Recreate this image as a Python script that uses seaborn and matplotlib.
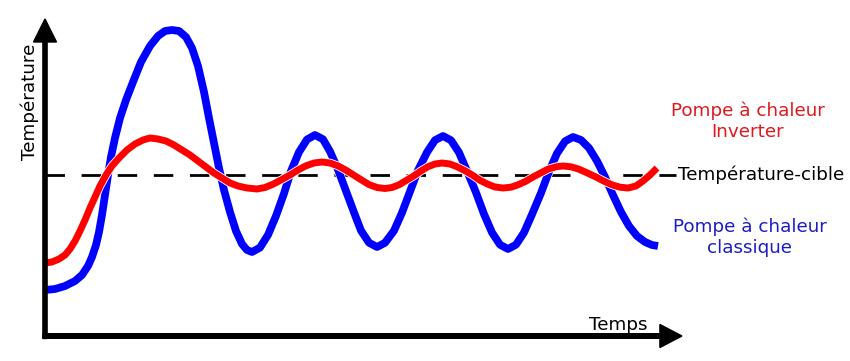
import numpy as np
import pandas as pd
import matplotlib
matplotlib.use("Agg")
import matplotlib.pyplot as plt
import matplotlib.patheffects as pe
import seaborn as sns

# ---- data (time, temperature in arbitrary units) ----
time_classic = [0, 10, 20, 30, 37, 43, 47, 51, 54, 57, 60, 63, 66, 70, 75, 81,
                88, 96, 105, 113, 120, 127, 134, 141,
                147, 153, 159, 164, 169, 174, 179, 185, 191, 197, 202, 207,
                215, 223, 231, 239, 246, 254, 262, 270,
                278, 285, 293, 301, 309, 316, 324, 332,
                340, 349, 357, 365, 373, 382, 390, 398,
                406, 414, 422, 431, 439, 447, 455, 463,
                471, 479, 487, 496, 504, 512, 520, 528,
                536, 544, 552, 560, 568, 576, 584, 592, 600, 607, 613]
temp_classic = [46, 47, 50, 55, 61, 70, 79, 91, 104, 121, 141, 161, 179, 198, 218, 236,
                254, 274, 290, 300, 305, 306, 305, 299,
                288, 270, 244, 218, 193, 168, 146, 124, 105, 92, 86, 84,
                88.4, 101.1, 120.1, 142.5, 164.9, 183.9, 196.5, 201,
                196.7, 184.6, 166.4, 145, 123.6, 105.4, 93.3, 89,
                93.2, 105.3, 123.3, 144.5, 165.7, 183.7, 195.8, 200,
                195.7, 183.5, 165.1, 143.5, 121.9, 103.5, 91.3, 87,
                91.3, 103.4, 121.6, 143, 164.4, 182.6, 194.7, 199,
                196, 188, 175, 159, 141, 124, 110, 100, 94, 91, 90]

time_inverter = [0, 7, 14, 20, 25, 30, 35, 40, 45, 50, 55, 61, 67, 74, 82, 90, 98,
                 105, 113, 121, 129, 137, 145, 153, 161, 169, 177, 185, 193, 202, 212,
                 220, 228, 236, 245, 253, 261, 269, 277,
                 285, 293, 301, 309, 317, 324, 332, 340,
                 347, 354, 361, 369, 376, 383, 390, 397,
                 405, 412, 420, 428, 435, 443, 450, 458,
                 466, 473, 481, 488, 496, 503, 511, 518,
                 526, 534, 542, 551, 559, 567, 575, 583,
                 591, 598, 605, 612]
temp_inverter = [73, 74, 77, 81, 87, 95, 105, 116, 128, 139, 150, 161, 170, 178, 186, 192, 196,
                 198, 197, 195, 191, 186, 181, 175, 169, 163, 158, 153, 150, 148, 147,
                 148.5, 151.8, 156, 161, 166, 170.2, 173, 174,
                 173, 170.1, 165.8, 160.7, 155.7, 151.4, 148.5, 147.5,
                 148.5, 151.2, 155.4, 160.2, 165.1, 169.3, 172, 173,
                 172, 169.3, 165.3, 160.5, 155.7, 151.7, 149, 148,
                 148.8, 151.2, 154.8, 159, 163.2, 166.8, 169.2, 170,
                 169.2, 166.8, 163.2, 159, 154.8, 151.2, 148.8, 148,
                 150, 155, 161, 168]

target_temp = 161
target_span = [0, 631]

label_inverter = "Pompe à chaleur\nInverter"
label_classic = "Pompe à chaleur\nclassique"
label_target = "Température-cible"
label_x = "Temps"
label_y = "Température"

# ---- figure ----
sns.set_theme(style="white")
plt.rcParams["font.family"] = ["DejaVu Sans"]

fig = plt.figure(figsize=(8.5, 3.61), dpi=100)
ax = fig.add_axes([0, 0, 1, 1])
ax.set_xlim(-45, 805)
ax.set_ylim(-25, 336)
ax.axis("off")

df_c = pd.DataFrame({"t": time_classic, "T": temp_classic})
df_i = pd.DataFrame({"t": time_inverter, "T": temp_inverter})

sns.lineplot(data=df_c, x="t", y="T", sort=False, color="#0000ff",
             linewidth=5.6, ax=ax, zorder=3,
             path_effects=[pe.Stroke(linewidth=6.6, foreground="white"), pe.Normal()])
ax.lines[-1].set_solid_capstyle("butt")
ax.lines[-1].set_solid_joinstyle("round")

# target dashed line
ax.plot(target_span, [target_temp, target_temp], color="black", linewidth=2,
        dashes=(7, 6), zorder=2)

sns.lineplot(data=df_i, x="t", y="T", sort=False, color="#ff0000",
             linewidth=5.0, ax=ax, zorder=4,
             path_effects=[pe.Stroke(linewidth=6.2, foreground="white"), pe.Normal()])
ax.lines[-1].set_solid_capstyle("butt")
ax.lines[-1].set_solid_joinstyle("round")

# axes with arrows
ax.arrow(0, -2.5, 0, 319.5, width=4.2, head_width=23, head_length=23,
         length_includes_head=True, color="black", zorder=5)
ax.arrow(-2.1, 0, 639, 0, width=4.6, head_width=23, head_length=22,
         length_includes_head=True, color="black", zorder=5)

# texts
fs = 13.2
ax.text(633, target_temp, label_target, ha="left", va="center",
        fontsize=fs, color="black")
ax.text(703, 215, label_inverter, ha="center", va="center",
        fontsize=fs, color="#e0181e", multialignment="center", linespacing=1.2)
ax.text(705, 98.5, label_classic, ha="center", va="center",
        fontsize=fs, color="#1c1cc8", multialignment="center", linespacing=1.2)
ax.text(573, 11, label_x, ha="center", va="center", fontsize=fs, color="black")
ax.text(-15, 234, label_y, ha="center", va="center", rotation=90,
        fontsize=fs, color="black")

fig.savefig("out.png", dpi=100)
